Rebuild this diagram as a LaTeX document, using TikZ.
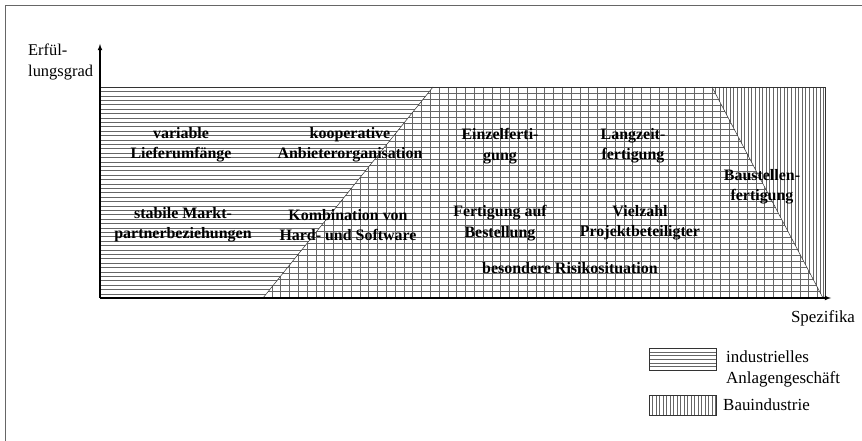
\documentclass[tikz,border=0pt]{standalone}
\usepackage{fontspec}
\setmainfont{Liberation Serif}
\begin{document}
\begin{tikzpicture}[x=1bp,y=-1bp,
	hatch/.style={black!60,line width=0.4pt},
	edge/.style={black!80,line width=0.5pt},
	axis/.style={->,>=latex,line width=1.1pt},
	lbl/.style={font=\bfseries\fontsize{16}{20.5}\selectfont,align=center,inner sep=0pt},
	txt/.style={font=\fontsize{17}{21}\selectfont,align=left,inner sep=0pt}]
	\useasboundingbox (0,0) rectangle (862,441);
	\draw [black!60,line width=0.8pt] (5,441) -- (5,5) -- (862,5);
	% industrielles Anlagengeschaeft
	\begin{scope}
		\clip (100,87) -- (433,87) -- (263,298) -- (100,298) -- cycle;
		\foreach \y in {87,91.4,...,298} \draw [hatch] (100,\y) -- (433,\y);
	\end{scope}
	% beide
	\begin{scope}
		\clip (263,298) -- (433,87) -- (712,87) -- (823,298) -- cycle;
		\foreach \x in {263,271.8,...,823} \draw [hatch] (\x,87) -- (\x,298);
		\foreach \y in {87,93,...,298} \draw [hatch] (263,\y) -- (823,\y);
	\end{scope}
	% Bauindustrie
	\begin{scope}
		\clip (712,87) -- (825,87) -- (825,298) -- (823,298) -- cycle;
		\foreach \x in {712,715.6,...,826} \draw [hatch] (\x,87) -- (\x,298);
	\end{scope}
	\draw [edge] (100,87) -- (825,87) -- (825,298);
	\draw [edge] (263,298) -- (433,87);
	\draw [edge] (712,87) -- (823,298);
	% Achsen
	\coordinate (O) at (100,298);
	\coordinate (Y) at (100,44);
	\coordinate (X) at (831,298);
	\draw [axis] (O) -- (Y);
	\draw [axis] (O) -- (X);
	\node [txt,anchor=west,font=\fontsize{16.5}{20.5}\selectfont] (erf) at (28,62) {Erfül-\\lungsgrad};
	\node [txt] (spez) at (823,318) {Spezifika};
	% Texte
	\node [lbl] (var) at (181,145) {variable\\Lieferumfänge};
	\node [lbl] (koop) at (350,145) {kooperative\\Anbieterorganisation};
	\node [lbl] (stab) at (183,225) {stabile Markt-\\partnerbeziehungen};
	\node [lbl] (komb) at (348,225) {Kombination von\\Hard- und Software};
	\node [lbl] (einz) at (500,146) {Einzelferti-\\gung};
	\node [lbl] (lang) at (633,146) {Langzeit-\\fertigung};
	\node [lbl] (bau) at (762,187) {Baustellen-\\fertigung};
	\node [lbl] (best) at (500,223) {Fertigung auf\\Bestellung};
	\node [lbl] (viel) at (640,223) {Vielzahl\\Projektbeteiligter};
	\node [lbl] (ris) at (570,268) {besondere Risikosituation};
	% Legende
	\begin{scope}
		\clip (649,348) rectangle (716,370);
		\foreach \y in {348,351.7,...,370} \draw [hatch] (649,\y) -- (716,\y);
	\end{scope}
	\draw [edge] (649,348) rectangle (716,370);
	\begin{scope}
		\clip (649,395) rectangle (716,415);
		\foreach \x in {649,652.5,...,716} \draw [hatch] (\x,395) -- (\x,415);
	\end{scope}
	\draw [edge] (649,395) rectangle (716,415);
	\node [txt,anchor=west] (ind) at (726,369) {industrielles\\Anlagengeschäft};
	\node [txt,anchor=west] (bauind) at (723,405) {Bauindustrie};
\end{tikzpicture}
\end{document}
